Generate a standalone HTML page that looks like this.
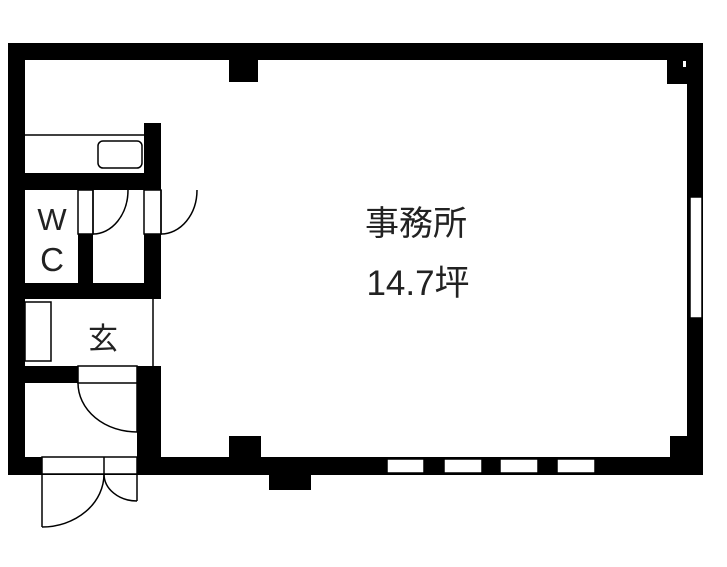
<!DOCTYPE html>
<html><head><meta charset="utf-8"><style>html,body{margin:0;padding:0;background:#fff}svg{display:block}</style></head>
<body>
<svg width="727" height="567" viewBox="0 0 727 567" xmlns="http://www.w3.org/2000/svg">
<g fill="#000">
<rect x="8" y="43" width="695" height="17"/>
<rect x="8" y="43" width="17" height="431"/>
<rect x="687" y="43" width="16" height="432"/>
<rect x="8" y="457" width="695" height="18"/>
<rect x="229" y="60" width="29" height="22"/>
<rect x="667" y="60" width="20" height="24"/>
<rect x="670" y="436" width="17" height="21"/>
<rect x="229" y="436" width="32" height="21"/>
<rect x="269" y="474" width="42" height="16"/>
<rect x="144" y="123" width="17" height="176"/>
<rect x="25" y="173" width="136" height="17"/>
<rect x="78" y="234" width="15" height="49"/>
<rect x="25" y="283" width="136" height="16"/>
<rect x="25" y="366" width="53" height="17"/>
<rect x="137" y="366" width="24" height="108"/>
</g>
<g fill="#fff" stroke="#000" stroke-width="1.5">
<rect x="78" y="190" width="15" height="44"/>
<rect x="144" y="190" width="17" height="44"/>
<rect x="78" y="366" width="59" height="17"/>
<rect x="42" y="457" width="95" height="17"/>
<rect x="690" y="197" width="12" height="121"/>
<rect x="387" y="459" width="37" height="14"/>
<rect x="444" y="459" width="38" height="14"/>
<rect x="500" y="459" width="38" height="14"/>
<rect x="557" y="459" width="38" height="14"/>
<rect x="98" y="141" width="44" height="27" rx="5"/>
<rect x="25" y="302" width="26" height="59"/>
</g>
<rect x="683" y="61" width="3" height="6" fill="#fff"/>
<g fill="none" stroke="#000" stroke-width="1.5">
<line x1="25" y1="135" x2="144" y2="135"/>
<line x1="153" y1="299" x2="153" y2="366"/>
<line x1="104" y1="457" x2="104" y2="474"/>
<line x1="93" y1="190" x2="93" y2="234"/>
<path d="M93 234 A35 44 0 0 0 128 190"/>
<line x1="161" y1="190" x2="161" y2="234"/>
<path d="M161 234 A36 44 0 0 0 197 190"/>
<line x1="137" y1="383" x2="137" y2="432"/>
<path d="M78 383 A59 49 0 0 0 137 432"/>
<line x1="42" y1="474" x2="42" y2="527"/>
<path d="M42 527 A62 53 0 0 0 104 474"/>
<line x1="137" y1="474" x2="137" y2="501"/>
<path d="M137 501 A33 27 0 0 1 104 474"/>
</g>
<g font-family="'Liberation Sans','Noto Sans CJK JP',sans-serif" fill="#222" text-anchor="middle">
<text x="52" y="230" font-size="31">W</text>
<text x="52" y="271" font-size="33">C</text>
<text x="103" y="349" font-size="30" font-family="'Noto Sans CJK JP',sans-serif">玄</text>
<text x="416" y="235" font-size="34" font-family="'Noto Sans CJK JP',sans-serif">事務所</text>
<text x="418" y="295" font-size="35">14.7坪</text>
</g>
</svg>
</body></html>
